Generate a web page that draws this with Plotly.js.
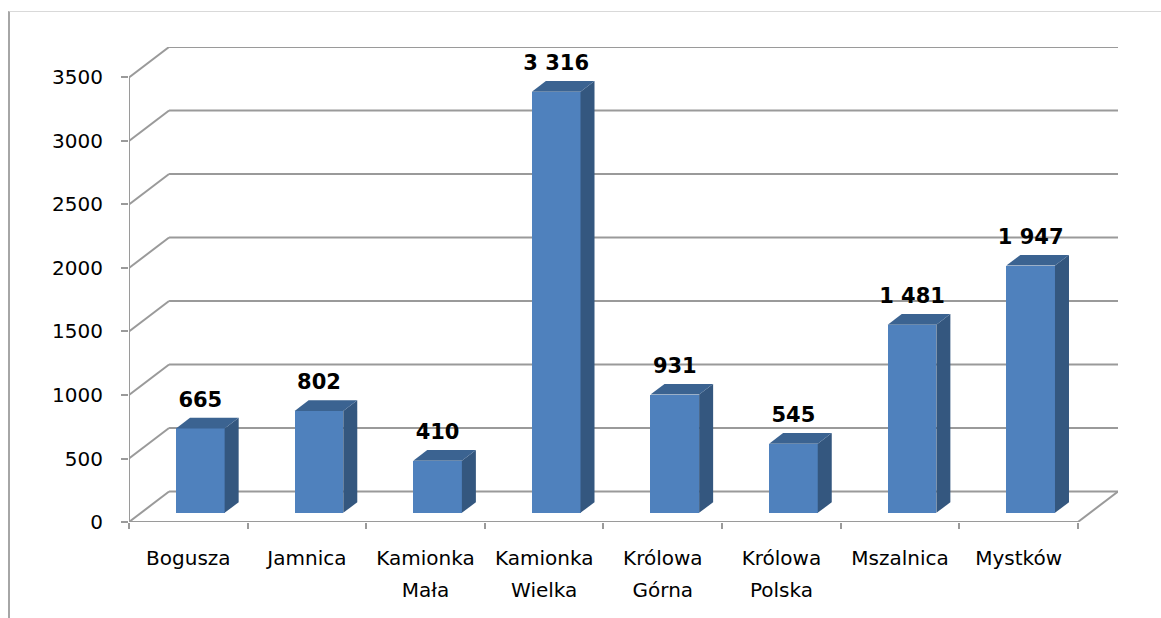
<!DOCTYPE html>
<html>
<head>
<meta charset="utf-8">
<script src="https://cdn.plot.ly/plotly-3.0.1.min.js"></script>
<style>
  html, body { margin: 0; padding: 0; background: #fff; }
  #wrap { position: relative; width: 1161px; height: 618px; overflow: hidden; }
  #chart { position: absolute; left: 0; top: 0; width: 1161px; height: 618px; }
  #frame { position: absolute; left: 8px; top: 11px; width: 1200px; height: 700px;
           border-left: 2px solid #a6a6a6; border-top: 1px solid #d9d9d9; pointer-events: none; }
</style>
</head>
<body>
<div id="wrap">
  <div id="chart"></div>
  <div id="frame"></div>
</div>
<script>
// ---- data ----
const categories = ['Bogusza', 'Jamnica', 'Kamionka Mała', 'Kamionka Wielka', 'Królowa Górna', 'Królowa Polska', 'Mszalnica', 'Mystków'];
const values = [665, 802, 410, 3316, 931, 545, 1481, 1947];
const yTickValues = [0, 500, 1000, 1500, 2000, 2500, 3000, 3500];
const yMax = 3500;

// ---- 3D geometry (in axis units) ----
const n = categories.length;
const xL = -0.5, xR = n - 0.5;
const depthX = 0.3376;      // full floor depth, horizontal (category units)
const depthY = 240;         // full floor depth, vertical (value units)
const barFront = 0.30;      // depth fraction of bar front face
const barDepth = 0.35;      // depth fraction of bar thickness
const barWidth = 0.41;
const labelGap = 213;

const fmt = v => String(v).replace(/\B(?=(\d{3})+(?!\d))/g, ' ');
const idx = categories.map((_, i) => i);
const barX = idx.map(i => i + barFront * depthX);
const barBase = barFront * depthY;
const sx = barDepth * depthX, sy = barDepth * depthY;

const gridColor = '#9a9a9a';
const shapes = [];
function seg(x0, y0, x1, y1) {
  shapes.push({type: 'line', xref: 'x', yref: 'y', x0, y0, x1, y1, layer: 'below',
               line: {color: gridColor, width: 2}});
}
yTickValues.forEach(v => {
  seg(xL, v, xL + depthX, v + depthY);
  seg(xL + depthX, v + depthY, xR + depthX, v + depthY);
});
seg(xL, 0, xL, yMax);          // front vertical axis
seg(xL, 0, xR, 0);             // floor front edge
seg(xR, 0, xR + depthX, depthY); // floor right edge

// ---- traces ----
const traces = [];
traces.push({
  type: 'bar', x: barX, y: values, base: barBase, width: barWidth,
  marker: {color: '#4F81BD', line: {width: 0}}, hoverinfo: 'skip', xaxis: 'x', yaxis: 'y'
});
values.forEach((v, i) => {
  const l = barX[i] - barWidth / 2, r = barX[i] + barWidth / 2;
  const top = barBase + v;
  traces.push({
    type: 'scatter', mode: 'lines', fill: 'toself', fillcolor: '#34577F',
    line: {width: 0, color: '#34577F'}, hoverinfo: 'skip',
    x: [r, r, r + sx, r + sx, r], y: [barBase, top, top + sy, barBase + sy, barBase]
  });
  traces.push({
    type: 'scatter', mode: 'lines', fill: 'toself', fillcolor: '#3B6391',
    line: {width: 0, color: '#3B6391'}, hoverinfo: 'skip',
    x: [l, r, r + sx, l + sx, l], y: [top, top, top + sy, top + sy, top]
  });
});
traces.push({
  type: 'scatter', mode: 'text', x: barX, y: values.map(v => barBase + v + labelGap),
  text: values.map(fmt), textposition: 'middle center', hoverinfo: 'skip',
  textfont: {family: 'DejaVu Sans', size: 21, color: '#000', weight: 'bold'}
});
// invisible helpers so overlay axes get drawn
traces.push({type: 'scatter', mode: 'markers', x: [0], y: [0], xaxis: 'x2', yaxis: 'y', marker: {opacity: 0}, hoverinfo: 'skip'});
traces.push({type: 'scatter', mode: 'markers', x: [0], y: [0], xaxis: 'x3', yaxis: 'y', marker: {opacity: 0}, hoverinfo: 'skip'});

const line1 = categories.map(c => c.split(' ')[0]);
const line2 = categories.map(c => c.split(' ').slice(1).join(' '));
const boundaries = Array.from({length: n + 1}, (_, k) => k - 0.5);
const xRange = [xL, xR + depthX];
const tickFont = {family: 'DejaVu Sans', size: 20, color: '#000'};

const layout = {
  width: 1161, height: 618, autosize: false,
  margin: {l: 129, r: 43, t: 47, b: 96, pad: 0},
  paper_bgcolor: '#fff', plot_bgcolor: '#fff',
  showlegend: false, bargap: 0,
  xaxis: {range: xRange, tickmode: 'array', tickvals: boundaries, showticklabels: false,
          ticks: 'outside', ticklen: 6, tickwidth: 2, tickcolor: gridColor,
          showgrid: false, zeroline: false, showline: false, fixedrange: true},
  xaxis2: {overlaying: 'x', anchor: 'y', range: xRange, tickmode: 'array', tickvals: idx, ticktext: line1,
           ticks: '', showgrid: false, zeroline: false, showline: false, tickfont: tickFont,
           ticklabelstandoff: 22},
  xaxis3: {overlaying: 'x', anchor: 'y', range: xRange, tickmode: 'array', tickvals: idx, ticktext: line2,
           ticks: '', showgrid: false, zeroline: false, showline: false, tickfont: tickFont,
           ticklabelstandoff: 54},
  yaxis: {range: [0, yMax + depthY], tickmode: 'array', tickvals: yTickValues,
          ticktext: yTickValues.map(String),
          ticks: 'outside', ticklen: 7, tickwidth: 2, tickcolor: gridColor,
          showgrid: false, zeroline: false, showline: false, tickfont: tickFont,
          ticklabelstandoff: 14, fixedrange: true},
  shapes: shapes
};

Plotly.newPlot('chart', traces, layout, {staticPlot: true, displayModeBar: false});
</script>
</body>
</html>
